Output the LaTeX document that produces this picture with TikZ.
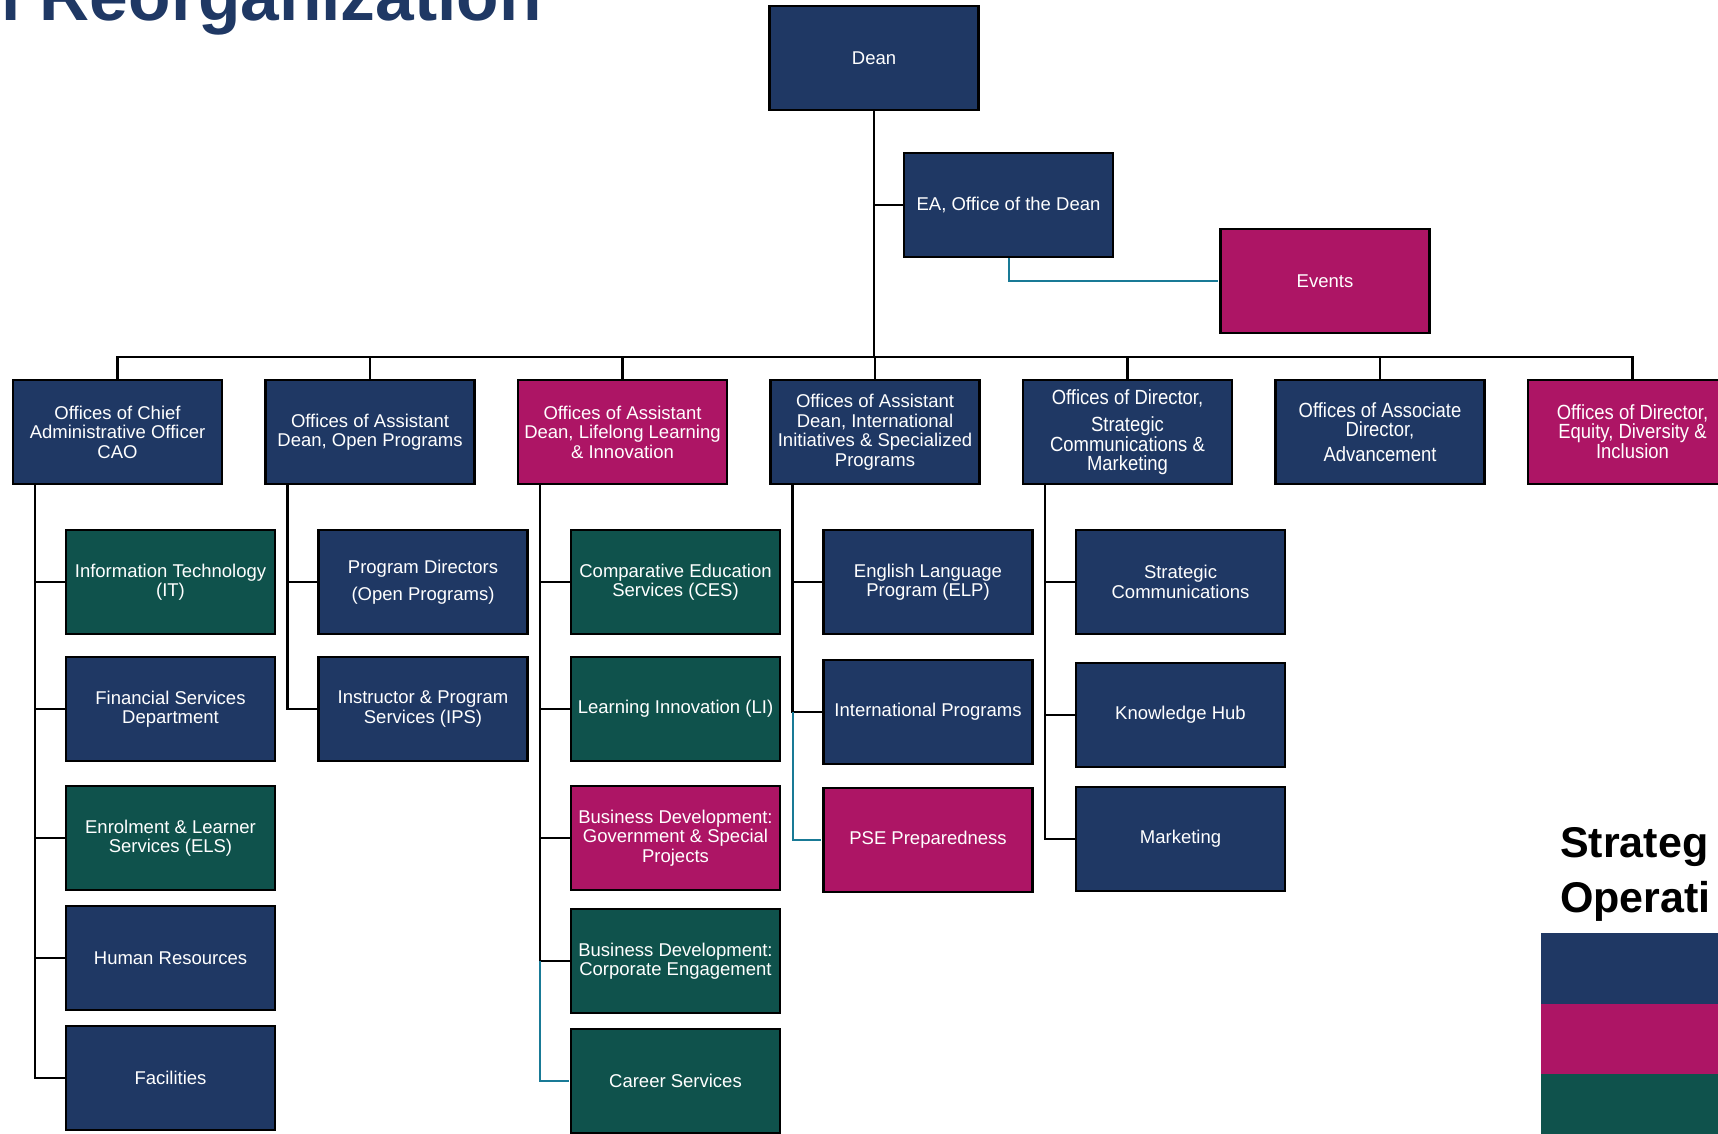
\documentclass[tikz,border=0pt]{standalone}
\usepackage{fontspec}
\setmainfont{Liberation Sans}
\newfontfamily\etroite[FakeStretch=0.9]{Liberation Sans}
\usepackage{xcolor}
\usepackage{tikz}
\usetikzlibrary{calc}
\definecolor{bleunuit}{RGB}{31, 56, 100}
\definecolor{framboise}{RGB}{173, 21, 101}
\definecolor{vertsapin}{RGB}{15, 82, 76}
\definecolor{bleulien}{RGB}{25, 122, 150}

\begin{document}
\begin{tikzpicture}[x=1pt, y=-1pt,
    boite/.style={draw=black, line width=2.5pt, text=white, minimum width=209pt,
      minimum height=104pt, inner sep=2pt, align=center,
      font={\fontsize{18.5}{19.5}\selectfont}},
    etroit/.style={font={\etroite\fontsize{20.5}{19}\selectfont}},
    lien/.style={draw=black, line width=2.5pt},
    lienbleu/.style={draw=bleulien, line width=2pt, shorten >=1.2pt}]
    \useasboundingbox (0,0) rectangle (1718,1134);
    \clip (0,0) rectangle (1718,1134);

    % titre coupé en haut
    \node[anchor=base west, inner sep=0pt, text=bleunuit,
      font={\fontsize{69.5}{72}\selectfont\bfseries}] (titre) at (1,21) {l Reorganization};

    % direction
    \node[boite, fill=bleunuit] (dean) at (874,58) {Dean};
    \node[boite, fill=bleunuit] (ea) at (1008.5,205) {EA, Office of the Dean};
    \node[boite, fill=framboise] (events) at (1325,281) {Events};

    % premier niveau
    \node[boite, fill=bleunuit] (cao) at (117.5,432) {Offices of Chief\\ Administrative Officer\\ CAO};
    \node[boite, fill=bleunuit] (open) at (370,432) {Offices of Assistant\\ Dean, Open Programs};
    \node[boite, fill=framboise] (lli) at (622.5,432) {Offices of Assistant\\ Dean, Lifelong Learning\\ \& Innovation};
    \node[boite, fill=bleunuit] (intl) at (875,432) {Offices of Assistant\\ Dean, International\\ Initiatives \& Specialized\\ Programs};
    \node[boite, etroit, fill=bleunuit] (strat) at (1127.5,432) {Offices of Director,\\[8pt] Strategic\\ Communications \&\\ Marketing};
    \node[boite, etroit, fill=bleunuit] (adv) at (1380,432) {Offices of Associate\\ Director,\\[6pt] Advancement};
    \node[boite, etroit, fill=framboise] (edi) at (1632.5,432) {Offices of Director,\\ Equity, Diversity \&\\ Inclusion};

    % liaisons de la direction
    \coordinate (bus) at (874,357);
    \draw[lien] (dean.south) -- (dean.south |- bus);
    \draw[lien] (dean.south |- ea.west) -- (ea.west);
    \draw[lienbleu] (ea.south) |- (events.west);
    \draw[lien] (cao.north) -- (cao.north |- bus) -- (edi.north |- bus) -- (edi.north);
    \foreach \n in {open,lli,intl,strat,adv}{
      \draw[lien] (\n.north) -- (\n.north |- bus);
    }

    % départ des colonnes sous chaque bureau
    \foreach \n in {cao,open,lli,intl,strat}{
      \coordinate (\n-t) at ([xshift=-82.5pt]\n.south);
    }

    % colonne CAO
    \foreach \nom/\y/\couleur/\texte in {
        it/582/vertsapin/{Information Technology\\ (IT)},
        fs/709/bleunuit/{Financial Services\\ Department},
        els/838/vertsapin/{Enrolment \& Learner\\ Services (ELS)},
        hr/958/bleunuit/{Human Resources},
        fac/1078/bleunuit/{Facilities}}{
      \node[boite, fill=\couleur] (\nom) at (170.5,\y) {\texte};
      \draw[lien] (cao-t) |- (\nom.west);
    }

    % colonne programmes ouverts
    \foreach \nom/\y/\couleur/\texte in {
        pd/582/bleunuit/{Program Directors\\[7pt] (Open Programs)},
        ips/709/bleunuit/{Instructor \& Program\\ Services (IPS)}}{
      \node[boite, fill=\couleur] (\nom) at (423,\y) {\texte};
      \draw[lien] (open-t) |- (\nom.west);
    }

    % colonne formation continue
    \foreach \nom/\y/\couleur/\texte in {
        ces/582/vertsapin/{Comparative Education\\ Services (CES)},
        li/709/vertsapin/{Learning Innovation (LI)},
        bdgov/838/framboise/{Business Development:\\ Government \& Special\\ Projects},
        bdcorp/961/vertsapin/{Business Development:\\ Corporate Engagement}}{
      \node[boite, fill=\couleur] (\nom) at (675.5,\y) {\texte};
      \draw[lien] (lli-t) |- (\nom.west);
    }
    \node[boite, fill=vertsapin] (career) at (675.5,1081) {Career Services};
    \draw[lienbleu] (lli-t |- bdcorp.west) |- (career.west);

    % colonne international
    \foreach \nom/\y/\couleur/\texte in {
        elp/582/bleunuit/{English Language\\ Program (ELP)},
        ip/712/bleunuit/{International Programs}}{
      \node[boite, fill=\couleur] (\nom) at (928,\y) {\texte};
      \draw[lien] (intl-t) |- (\nom.west);
    }
    \node[boite, fill=framboise] (pse) at (928,840) {PSE Preparedness};
    \draw[lienbleu] (intl-t |- ip.west) |- (pse.west);

    % colonne communications
    \foreach \nom/\y/\couleur/\texte in {
        sc/582/bleunuit/{Strategic\\ Communications},
        kh/715/bleunuit/{Knowledge Hub},
        mkt/839/bleunuit/{Marketing}}{
      \node[boite, fill=\couleur] (\nom) at (1180.5,\y) {\texte};
      \draw[lien] (strat-t) |- (\nom.west);
    }

    % légende coupée à droite
    \node[anchor=base west, inner sep=0pt, font={\fontsize{43}{50}\selectfont\bfseries}] (leg1) at (1560,857) {Strateg};
    \node[anchor=base west, inner sep=0pt, font={\fontsize{43}{50}\selectfont\bfseries}] (leg2) at (1560,912) {Operati};
    \fill[bleunuit] (1541,933) rectangle (1718,1003.5);
    \fill[framboise] (1541,1003.5) rectangle (1718,1073.5);
    \fill[vertsapin] (1541,1073.5) rectangle (1718,1134);
  \end{tikzpicture}
\end{document}
